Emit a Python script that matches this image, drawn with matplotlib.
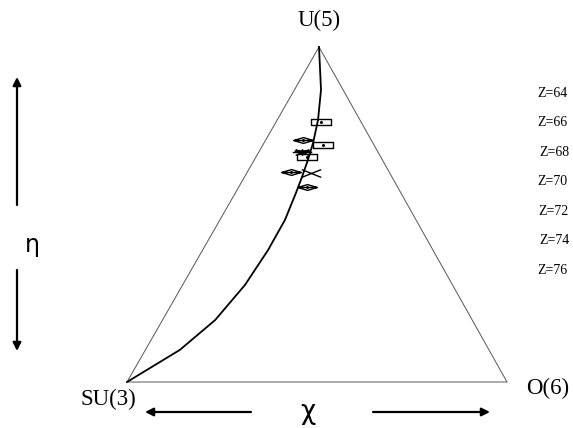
import numpy as np
import matplotlib
matplotlib.use("Agg")
import matplotlib.pyplot as plt
from matplotlib.path import Path

# ECQF parameters (eta, chi) of the nuclei, and the arc of regularity
eta_vals = [0.224, 0.278, 0.293, 0.313, 0.328, 0.372, 0.376, 0.419]
chi_vals = [-0.623, -0.855, -0.607, -0.843, -0.781, -0.917, -0.729, -0.754]
kinds = ["rect", "diamond", "rect", "star", "rect", "diamond", "cross", "diamond"]

arc_eta = [0.0, 0.128, 0.218, 0.287, 0.337, 0.388, 0.436, 0.516, 0.606,
           0.710, 0.815, 0.904, 0.958, 1.0]
arc_chi = [-0.56, -0.600, -0.670, -0.727, -0.769, -0.807, -0.839, -0.884,
           -0.947, -1.017, -1.098, -1.190, -1.268, -1.3229]

z_labels = ["Z=64", "Z=66", "Z=68", "Z=70", "Z=72", "Z=74", "Z=76"]

CHI_SU3 = -np.sqrt(7) / 2

# corners of the triangle on the canvas
U5 = np.array([319.0, 47.0])
SU3 = np.array([127.0, 382.0])
O6 = np.array([507.0, 382.0])


def to_xy(eta, chi):
    eta = np.asarray(eta, float)
    f = np.asarray(chi, float) / CHI_SU3
    d = (1 - f)[..., None] * (O6 - U5) + f[..., None] * (SU3 - U5)
    p = U5 + eta[..., None] * d
    return p[..., 0], p[..., 1]


def seg_path(segs):
    verts, codes = [], []
    for a, b in segs:
        verts += [a, b]
        codes += [Path.MOVETO, Path.LINETO]
    return Path(verts, codes)


rect_m = Path([(-1, -0.28), (1, -0.28), (1, 0.28), (-1, 0.28), (-1, -0.28)],
              [Path.MOVETO, Path.LINETO, Path.LINETO, Path.LINETO, Path.CLOSEPOLY])
diam_m = Path([(-1, 0), (0, 0.3), (1, 0), (0, -0.3), (-1, 0),
               (-1, 0), (1, 0)],
              [Path.MOVETO, Path.LINETO, Path.LINETO, Path.LINETO, Path.CLOSEPOLY,
               Path.MOVETO, Path.LINETO])
star_m = seg_path([((-1, 0), (1, 0)), ((-0.8, 0.15), (0.8, 0.15)),
                   ((-0.7, -0.3), (0.7, 0.3)), ((-0.7, 0.3), (0.7, -0.3)),
                   ((0, -0.35), (0, 0.35))])
cross_m = seg_path([((-1, -0.4), (1, 0.4)), ((-1, 0.4), (1, -0.4))])
marker_for = {"rect": rect_m, "diamond": diam_m, "star": star_m, "cross": cross_m}

fig = plt.figure(figsize=(5.73, 4.28), dpi=100)
ax = fig.add_axes([0, 0, 1, 1])
ax.set_xlim(0, 573)
ax.set_ylim(428, 0)
ax.axis("off")

# triangle
tri = np.array([U5, SU3, O6, U5])
ax.plot(tri[:, 0], tri[:, 1], color="#555555", lw=0.7)

# arc of regularity
ax_x, ax_y = to_xy(arc_eta, arc_chi)
ax.plot(ax_x, ax_y, color="black", lw=1.3, solid_joinstyle="round")

px, py = to_xy(eta_vals, chi_vals)
for x, y, k in zip(px, py, kinds):
    ax.plot([x], [y], linestyle="none", marker=marker_for[k], markersize=14,
            markerfacecolor="none", markeredgecolor="black", markeredgewidth=1.0)
    if k in ("rect", "diamond"):
        ax.plot([x], [y], linestyle="none", marker="o", markersize=1.2,
                color="black")

serif = "Liberation Serif"
ax.text(U5[0], 20, "U(5)", ha="center", va="center", fontsize=16.5, family=serif)
ax.text(108, 399, "SU(3)", ha="center", va="center", fontsize=16.5, family=serif)
ax.text(548, 388, "O(6)", ha="center", va="center", fontsize=16.5, family=serif)

z_x = [537, 537, 539, 537, 538, 539, 537]
for i, (lab, x) in enumerate(zip(z_labels, z_x)):
    ax.text(x, 93 + 29.5 * i, lab, ha="left", va="center", fontsize=10,
            family=serif)

ax.text(32, 245, "η", ha="center", va="center", fontsize=17)
ax.text(308, 412, "χ", ha="center", va="center", fontsize=19)

arrow = dict(arrowstyle="-|>", color="black", lw=1.6, mutation_scale=12,
             shrinkA=0, shrinkB=0)
ax.annotate("", xy=(17, 77), xytext=(17, 205), arrowprops=arrow)
ax.annotate("", xy=(17, 351), xytext=(17, 270), arrowprops=arrow)
ax.annotate("", xy=(145, 412), xytext=(251, 412), arrowprops=arrow)
ax.annotate("", xy=(490, 412), xytext=(373, 412), arrowprops=arrow)

fig.savefig("out.png", dpi=100)
